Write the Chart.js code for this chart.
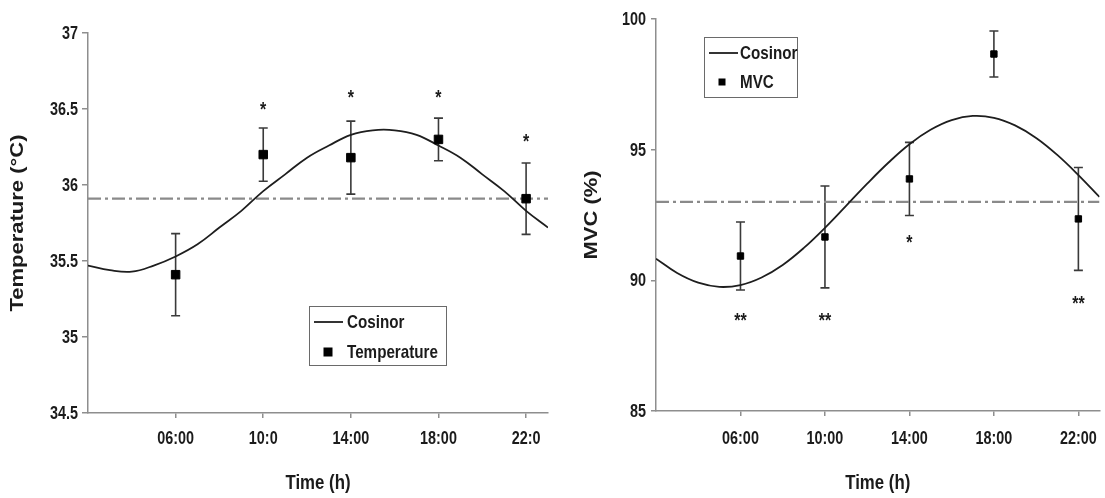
<!DOCTYPE html>
<html>
<head>
<meta charset="utf-8">
<script src="https://cdn.jsdelivr.net/npm/chart.js@4.4.1/dist/chart.umd.min.js"></script>
<style>
  html, body { margin: 0; padding: 0; background: #fff; }
  #wrap { position: relative; width: 1105px; height: 498px; overflow: hidden; }
  .panel { position: absolute; top: 0; height: 498px; }
  #p1 { left: 0; width: 555px; }
  #p2 { left: 555px; width: 550px; }
</style>
</head>
<body>
<div id="wrap">
  <div class="panel" id="p1"><canvas id="tempChart" width="555" height="498"></canvas></div>
  <div class="panel" id="p2"><canvas id="mvcChart" width="550" height="498"></canvas></div>
</div>
<script>
// Measurement times (clock hour) and their axis labels
const hours = [6, 10, 14, 18, 22];
const tempTickLabels = ['06:00', '10:0', '14:00', '18:00', '22:0'];
const mvcTickLabels = ['06:00', '10:00', '14:00', '18:00', '22:00'];

// Rectal temperature: mean and error bar half-length at each time point
const tempMean = [35.41, 36.20, 36.18, 36.30, 35.91];
const tempErr = [0.27, 0.175, 0.24, 0.14, 0.235];
const tempMesor = 35.91;
const tempStars = ['', '*', '*', '*', '*'];
const tempStarY = [null, 36.53, 36.61, 36.61, 36.32];

// Maximal voluntary contraction (% of best): mean and error bar half-length
const mvcMean = [90.93, 91.66, 93.88, 98.66, 92.35];
const mvcErr = [1.30, 1.95, 1.40, 0.88, 1.97];
const mvcMesor = 93.0;
const mvcStars = ['**', '**', '*', '', '**'];
const mvcStarY = [88.64, 88.64, 91.66, null, 89.32];

// Fitted cosinor curves, sampled every hour from 02:00 to 23:00
const curveHours = [2, 3, 4, 5, 6, 7, 8, 9, 10, 11, 12, 13, 14, 15, 16, 17, 18, 19, 20, 21, 22, 23];
const tempCosinor = [35.47, 35.44, 35.43, 35.47, 35.53, 35.61, 35.72, 35.83, 35.96, 36.07, 36.18,
                     36.26, 36.33, 36.36, 36.36, 36.33, 36.26, 36.18, 36.07, 35.96, 35.83, 35.72];
const mvcCosinor = [90.83, 90.28, 89.91, 89.75, 89.82, 90.11, 90.59, 91.24, 92.01, 92.85, 93.70,
                    94.50, 95.21, 95.76, 96.13, 96.29, 96.22, 95.93, 95.45, 94.80, 94.03, 93.19];

const FONT = "'Liberation Sans', Arial, sans-serif";
const TEXT = '#1b1b1b';
const AXIS = '#8e8e8e';
const SQUEEZE = 0.8;   // narrow type: horizontal scale applied to all lettering

// Bold, horizontally condensed text; rotated text keeps its length along y
function drawText(ctx, text, x, y, size, align, baseline, rotated) {
  ctx.save();
  ctx.translate(x, y);
  ctx.scale(SQUEEZE, 1);
  if (rotated) ctx.rotate(-Math.PI / 2);
  ctx.font = `bold ${size}px ${FONT}`;
  ctx.textAlign = align;
  ctx.textBaseline = baseline;
  ctx.fillStyle = TEXT;
  ctx.fillText(text, 0, 0);
  ctx.restore();
}

// Error bars, axis lettering, significance stars and an inset legend
const extrasPlugin = {
  id: 'cosinorExtras',
  beforeDatasetsDraw(chart, args, o) {
    const { ctx } = chart;
    const xs = chart.scales.x, ys = chart.scales.y;
    ctx.save();
    ctx.strokeStyle = o.barColor;
    ctx.lineWidth = o.barWidth;
    o.hours.forEach((h, i) => {
      const x = xs.getPixelForValue(h);
      const yt = ys.getPixelForValue(o.means[i] + o.errs[i]);
      const yb = ys.getPixelForValue(o.means[i] - o.errs[i]);
      ctx.beginPath();
      ctx.moveTo(x, yt); ctx.lineTo(x, yb);
      ctx.moveTo(x - o.cap, yt); ctx.lineTo(x + o.cap, yt);
      ctx.moveTo(x - o.cap, yb); ctx.lineTo(x + o.cap, yb);
      ctx.stroke();
    });
    ctx.restore();
  },
  afterDraw(chart, args, o) {
    const { ctx, chartArea: ca } = chart;
    const xs = chart.scales.x, ys = chart.scales.y;

    // tick labels
    xs.ticks.forEach((t) => {
      const lbl = o.tickLabels[o.hours.indexOf(t.value)];
      if (lbl) drawText(ctx, lbl, xs.getPixelForValue(t.value), ca.bottom + o.xLabelOffset, o.tickSize, 'center', 'middle');
    });
    ys.ticks.forEach((t) => {
      drawText(ctx, String(Number(t.value.toFixed(2))), ca.left - o.yLabelGap, ys.getPixelForValue(t.value) + 1, o.tickSize, 'right', 'middle');
    });

    // axis titles
    drawText(ctx, o.xTitle, (ca.left + ca.right) / 2, o.xTitleY, o.xTitleSize, 'center', 'middle');
    drawText(ctx, o.yTitle, o.yTitleX, (ca.top + ca.bottom) / 2, o.yTitleSize, 'center', 'middle', true);

    // significance stars
    o.hours.forEach((h, i) => {
      if (!o.stars[i]) return;
      const x = xs.getPixelForValue(h);
      const y = ys.getPixelForValue(o.starY[i]);
      drawText(ctx, o.stars[i], x, y + o.starSize * 0.58, o.starSize, 'center', 'alphabetic');
    });

    // legend
    const lg = o.legend;
    const bx = Math.round(ca.left + lg.x), by = Math.round(ca.top + lg.y);
    ctx.save();
    ctx.fillStyle = '#fff';
    ctx.fillRect(bx, by, lg.w, lg.h);
    ctx.strokeStyle = '#6a6a6a';
    ctx.lineWidth = 1;
    ctx.strokeRect(bx + 0.5, by + 0.5, lg.w, lg.h);
    const curveDs = chart.data.datasets[1];
    const markDs = chart.data.datasets[0];
    ctx.strokeStyle = curveDs.borderColor;
    ctx.lineWidth = curveDs.borderWidth;
    ctx.beginPath();
    ctx.moveTo(bx + lg.lineX0, by + lg.row1);
    ctx.lineTo(bx + lg.lineX1, by + lg.row1);
    ctx.stroke();
    ctx.fillStyle = '#000';
    ctx.fillRect(bx + lg.markX - lg.mark / 2, by + lg.row2 - lg.mark / 2, lg.mark, lg.mark);
    ctx.restore();
    drawText(ctx, curveDs.label, bx + lg.textX, by + lg.row1 + 1, lg.font, 'left', 'middle');
    drawText(ctx, markDs.label, bx + lg.textX, by + lg.row2 + 1, lg.font, 'left', 'middle');
  }
};

function makeChart(canvasId, cfg) {
  const pts = (xsArr, ysArr) => xsArr.map((x, i) => ({ x, y: ysArr[i] }));
  return new Chart(document.getElementById(canvasId), {
    type: 'scatter',
    data: {
      datasets: [
        {
          label: cfg.markLabel,
          data: pts(hours, cfg.means),
          pointStyle: 'rect',
          pointRadius: cfg.markRadius,
          pointHoverRadius: cfg.markRadius,
          backgroundColor: '#000',
          borderColor: '#000',
          pointBorderWidth: 1,
          showLine: false,
          order: 0
        },
        {
          label: 'Cosinor',
          data: pts(curveHours, cfg.curve),
          showLine: true,
          borderColor: '#1e1e1e',
          borderWidth: 1.8,
          tension: 0.4,
          pointRadius: 0,
          pointHoverRadius: 0,
          fill: false,
          order: 1
        },
        {
          label: 'Mesor',
          data: [{ x: 2, y: cfg.mesor }, { x: 23, y: cfg.mesor }],
          showLine: true,
          borderColor: '#8a8a8a',
          borderWidth: 2.2,
          borderDash: [13, 4, 3, 4],
          pointRadius: 0,
          pointHoverRadius: 0,
          fill: false,
          order: 2
        }
      ]
    },
    options: {
      responsive: false,
      animation: false,
      events: [],
      layout: { padding: cfg.padding },
      plugins: {
        legend: { display: false },
        tooltip: { enabled: false },
        cosinorExtras: {
          hours,
          means: cfg.means,
          errs: cfg.errs,
          stars: cfg.stars,
          starY: cfg.starY,
          starSize: 20,
          barColor: '#3a3a3a',
          barWidth: 1.6,
          cap: 4.5,
          tickLabels: cfg.tickLabels,
          tickSize: 18,
          xLabelOffset: cfg.xLabelOffset,
          yLabelGap: 10,
          xTitle: 'Time (h)',
          xTitleY: 483,
          xTitleSize: 21,
          yTitle: cfg.yTitle,
          yTitleX: cfg.yTitleX,
          yTitleSize: 22,
          legend: cfg.legend
        }
      },
      scales: {
        x: {
          type: 'linear',
          min: 2,
          max: 23,
          afterBuildTicks: (s) => { s.ticks = hours.map(v => ({ value: v })); },
          afterFit: (s) => { s.height = cfg.xHeight; },
          ticks: { display: false, autoSkip: false, maxRotation: 0 },
          grid: { drawOnChartArea: false, drawTicks: true, tickLength: 5, color: AXIS, lineWidth: 1.5 },
          border: { display: true, color: AXIS, width: 1.5 },
          title: { display: false }
        },
        y: {
          type: 'linear',
          min: cfg.yMin,
          max: cfg.yMax,
          afterFit: (s) => { s.width = cfg.yWidth; },
          ticks: { display: false, stepSize: cfg.yStep },
          grid: { drawOnChartArea: false, drawTicks: true, tickLength: cfg.yTickLen, color: AXIS, lineWidth: 1.5 },
          border: { display: true, color: AXIS, width: 1.5 },
          title: { display: false }
        }
      }
    },
    plugins: [extrasPlugin]
  });
}

makeChart('tempChart', {
  markLabel: 'Temperature',
  means: tempMean, errs: tempErr, mesor: tempMesor,
  stars: tempStars, starY: tempStarY,
  curve: tempCosinor,
  tickLabels: tempTickLabels,
  markRadius: 6,
  yMin: 34.5, yMax: 37, yStep: 0.5,
  yTitle: 'Temperature (°C)',
  yTitleX: 18,
  yWidth: 86, yTickLen: 6,
  xHeight: 85, xLabelOffset: 26,
  padding: { left: 2, top: 33, right: 5, bottom: 0 },
  legend: { x: 221, y: 273, w: 137, h: 59, lineX0: 5, lineX1: 34, textX: 38, markX: 19, mark: 9, row1: 16, row2: 46, font: 19 }
});

makeChart('mvcChart', {
  markLabel: 'MVC',
  means: mvcMean, errs: mvcErr, mesor: mvcMesor,
  stars: mvcStars, starY: mvcStarY,
  curve: mvcCosinor,
  tickLabels: mvcTickLabels,
  markRadius: 4.5,
  yMin: 85, yMax: 100, yStep: 5,
  yTitle: 'MVC (%)',
  yTitleX: 37,
  yWidth: 80, yTickLen: 5,
  xHeight: 87, xLabelOffset: 28,
  padding: { left: 21, top: 19, right: 1, bottom: 0 },
  legend: { x: 48, y: 18, w: 93, h: 60, lineX0: 5, lineX1: 34, textX: 36, markX: 18, mark: 7, row1: 16, row2: 45, font: 19 }
});
</script>
</body>
</html>
